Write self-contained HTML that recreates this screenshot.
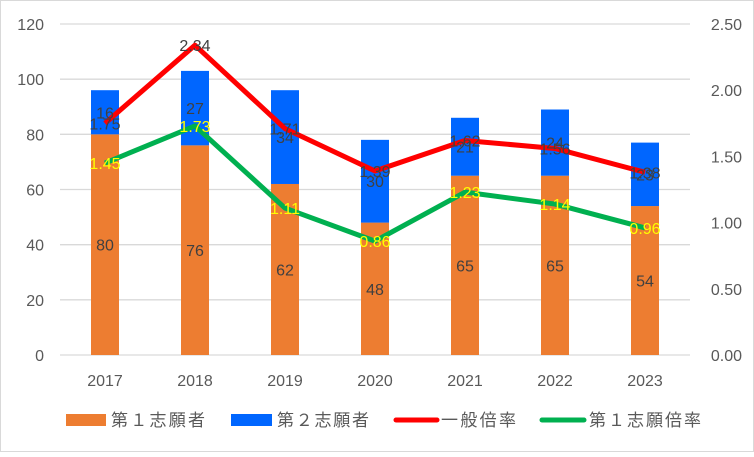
<!DOCTYPE html>
<html><head><meta charset="utf-8"><style>
body{margin:0;background:#fff}
svg text{font-family:"Liberation Sans","Noto Sans CJK JP",sans-serif}
</style></head><body>
<svg width="754" height="452">
<rect x="0.5" y="0.5" width="753" height="451" fill="#fff" stroke="#d9d9d9"/>
<g id="grid"></g><g id="bars"></g><g id="lines"></g><g id="labels"></g><g id="axes"></g>
<g>
<rect x="66" y="414" width="40" height="12" fill="#ed7d31"/>
<text x="111" y="426" font-size="17" fill="#595959" textLength="94">第１志願者</text>
<rect x="231" y="414" width="41" height="12" fill="#0066ff"/>
<text x="277" y="426" font-size="17" fill="#595959" textLength="92">第２志願者</text>
<line x1="396" y1="420" x2="437" y2="420" stroke="#ff0000" stroke-width="5" stroke-linecap="round"/>
<text x="441" y="426" font-size="17" fill="#595959" textLength="75">一般倍率</text>
<line x1="542" y1="420" x2="584" y2="420" stroke="#00b050" stroke-width="5" stroke-linecap="round"/>
<text x="589" y="426" font-size="17" fill="#595959" textLength="112">第１志願倍率</text>
</g>
</svg>
<script>
const categories=["2017","2018","2019","2020","2021","2022","2023"];
const first=[80,76,62,48,65,65,54];
const second=[16,27,34,30,21,24,23];
const general=[1.75,2.34,1.71,1.39,1.62,1.56,1.38];
const firstRate=[1.45,1.73,1.11,0.86,1.23,1.14,0.96];
const leftTicks=[0,20,40,60,80,100,120];
const rightTicks=["0.00","0.50","1.00","1.50","2.00","2.50"];
const NS="http://www.w3.org/2000/svg";
const X0=60,X1=690,Y0=355,Y1=24;
const yL=v=>Y0-(v/120)*(Y0-Y1);
const yR=v=>Y0-(v/2.5)*(Y0-Y1);
const xC=i=>X0+(i+0.5)*(X1-X0)/categories.length;
function mk(tag,attrs,parent){const e=document.createElementNS(NS,tag);for(const k in attrs)e.setAttribute(k,attrs[k]);document.getElementById(parent).appendChild(e);return e;}
leftTicks.forEach(t=>{
 const g=mk('line',{x1:X0,x2:X1,y1:yL(t),y2:yL(t),stroke:'#d9d9d9','stroke-width':1.3},'grid');
 
 
 const tx=mk('text',{x:44,y:yL(t)+6,'font-size':16,fill:'#595959','text-anchor':'end'},'axes');tx.textContent=t;
 
 
});
rightTicks.forEach(t=>{
 const tx=mk('text',{x:742,y:yR(+t)+6,'font-size':16,fill:'#595959','text-anchor':'end'},'axes');tx.textContent=t;
 
 
});
categories.forEach((c,i)=>{
 const tx=mk('text',{x:xC(i),y:386,'font-size':16,fill:'#595959','text-anchor':'middle'},'axes');tx.textContent=c;
 
 
 const bw=28,x=xC(i)-bw/2;
 const b1=mk('rect',{x:x,width:bw,y:yL(first[i]),height:Y0-yL(first[i]),fill:'#ed7d31'},'bars');
 
 
 const b2=mk('rect',{x:x,width:bw,y:yL(first[i]+second[i]),height:yL(first[i])-yL(first[i]+second[i]),fill:'#0066ff'},'bars');
 
 
 const l1=mk('text',{x:xC(i),y:yL(first[i]/2)+6,'font-size':16,fill:'#404040','text-anchor':'middle'},'labels');l1.textContent=first[i];
 
 
 const l2=mk('text',{x:xC(i),y:yL(first[i]+second[i]/2)+6,'font-size':16,fill:'#404040','text-anchor':'middle'},'labels');l2.textContent=second[i];
 
 
 const l3=mk('text',{x:xC(i),y:yR(general[i])+6,'font-size':16,fill:'#404040','text-anchor':'middle'},'labels');l3.textContent=general[i].toFixed(2);
 
 
 const l4=mk('text',{x:xC(i),y:yR(firstRate[i])+6,'font-size':16,fill:'#ffff00','text-anchor':'middle'},'labels');l4.textContent=firstRate[i].toFixed(2);
 
 
});
const p1=mk('polyline',{points:general.map((v,i)=>xC(i)+','+yR(v)).join(' '),fill:'none',stroke:'#ff0000','stroke-width':5,'stroke-linejoin':'round'},'lines');


const p2=mk('polyline',{points:firstRate.map((v,i)=>xC(i)+','+yR(v)).join(' '),fill:'none',stroke:'#00b050','stroke-width':5,'stroke-linejoin':'round'},'lines');


</script>
</body></html>
